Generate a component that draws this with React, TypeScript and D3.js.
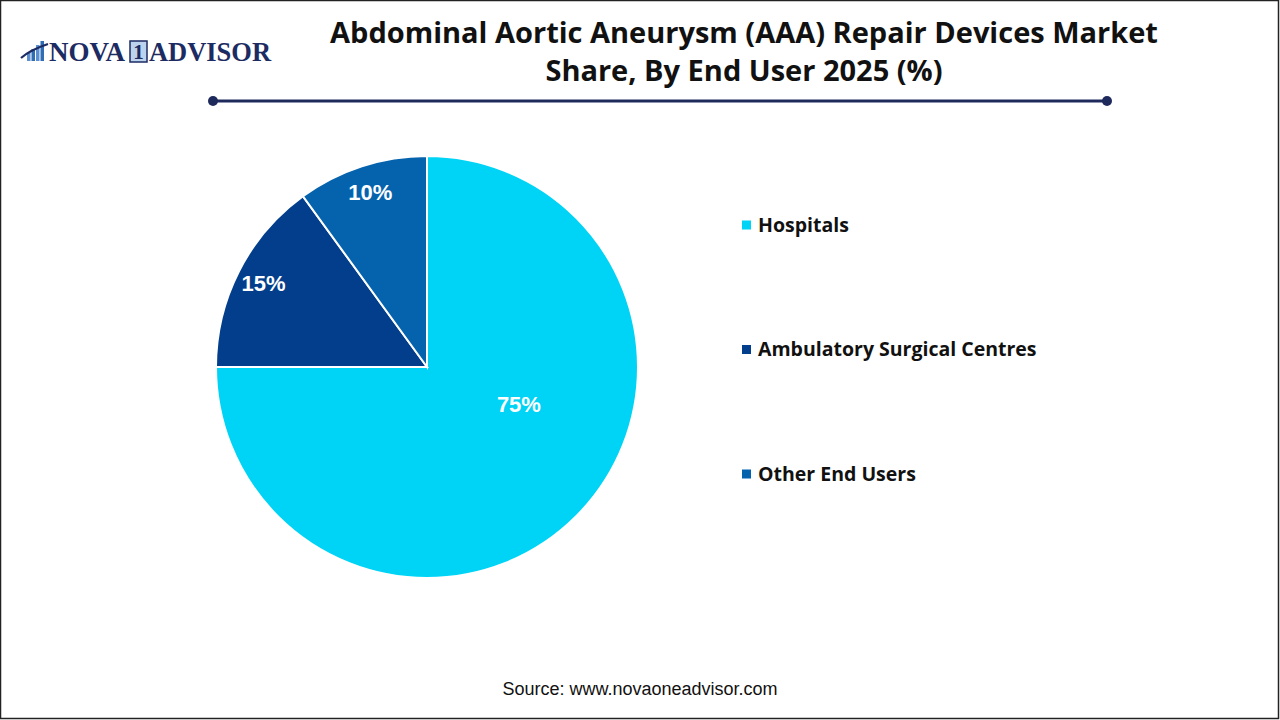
import React, { useEffect, useRef } from 'react';
import * as d3 from 'd3';

const categories = ['Hospitals', 'Ambulatory Surgical Centres', 'Other End Users'];
const shares = [75, 15, 10];
const colors = ['#00D4F6', '#023E8C', '#0563AE'];
const titleLines = ['Abdominal Aortic Aneurysm (AAA) Repair Devices Market', 'Share, By End User 2025 (%)'];
const sourceText = 'Source: www.novaoneadvisor.com';

export default function App() {
  const ref = useRef<SVGSVGElement | null>(null);

  useEffect(() => {
    document.body.style.margin = '0';
    const width = 1280;
    const height = 720;
    const svg = d3.select(ref.current).attr('width', width).attr('height', height);
    svg.selectAll('*').remove();

    svg.append('rect')
      .attr('x', 0.5).attr('y', 0.5)
      .attr('width', width - 2).attr('height', height - 2)
      .attr('fill', '#fff').attr('stroke', '#222').attr('stroke-width', 1.5);

    // logo
    const logo = svg.append('g');
    const bars = [8, 12, 16, 20];
    bars.forEach((h, i) => {
      logo.append('rect')
        .attr('x', 27 + i * 4.5).attr('y', 61 - h)
        .attr('width', 3.5).attr('height', h)
        .attr('fill', i % 2 ? '#2f6db5' : '#5b8fd0');
    });
    logo.append('path')
      .attr('d', 'M21,58 Q30,50 48,44')
      .attr('fill', 'none').attr('stroke', '#1d2b63').attr('stroke-width', 2.2);
    const logoFont = 'Liberation Serif, DejaVu Serif, serif';
    logo.append('text')
      .attr('x', 49).attr('y', 61)
      .attr('font-family', logoFont).attr('font-weight', 700).attr('font-size', 27)
      .attr('fill', '#1d2b63').text('NOVA');
    logo.append('rect')
      .attr('x', 130).attr('y', 41).attr('width', 17).attr('height', 21)
      .attr('fill', '#bcd3ee').attr('stroke', '#1d2b63').attr('stroke-width', 1.5);
    logo.append('text')
      .attr('x', 138.5).attr('y', 59).attr('text-anchor', 'middle')
      .attr('font-family', logoFont).attr('font-weight', 700).attr('font-size', 21)
      .attr('fill', '#1d2b63').text('1');
    logo.append('text')
      .attr('x', 149).attr('y', 61)
      .attr('font-family', logoFont).attr('font-weight', 700).attr('font-size', 27)
      .attr('fill', '#1d2b63').text('ADVISOR')
      .attr('textLength', 122).attr('lengthAdjust', 'spacingAndGlyphs');

    // title
    const title = svg.append('text')
      .attr('text-anchor', 'middle')
      .attr('font-family', 'Open Sans, Noto Sans, sans-serif')
      .attr('font-weight', 700).attr('font-size', 29).attr('fill', '#111');
    titleLines.forEach((line, i) => {
      title.append('tspan').attr('x', 744).attr('y', 43 + i * 38).text(line);
    });

    // divider
    svg.append('line')
      .attr('x1', 213).attr('x2', 1107).attr('y1', 101).attr('y2', 101)
      .attr('stroke', '#1f2a5c').attr('stroke-width', 3);
    [213, 1107].forEach(x => {
      svg.append('circle').attr('cx', x).attr('cy', 101).attr('r', 5).attr('fill', '#1f2a5c');
    });

    // pie
    const cx = 427, cy = 367, r = 211;
    const pie = d3.pie<number>().sort(null).value(d => d);
    const arcs = pie(shares);
    const arc = d3.arc<d3.PieArcDatum<number>>().innerRadius(0).outerRadius(r);
    const g = svg.append('g').attr('transform', `translate(${cx},${cy})`);
    g.selectAll('path')
      .data(arcs)
      .join('path')
      .attr('d', arc)
      .attr('fill', (_, i) => colors[i])
      .attr('stroke', '#fff').attr('stroke-width', 2);

    const labelPos = (d: d3.PieArcDatum<number>) => {
      const big = d.endAngle - d.startAngle > Math.PI;
      const a = (d.startAngle + d.endAngle) / 2 - (big ? 0.4 : 0);
      const rr = big ? r * 0.47 : r * 0.87;
      return [Math.sin(a) * rr, -Math.cos(a) * rr];
    };
    g.selectAll('text')
      .data(arcs)
      .join('text')
      .attr('transform', d => `translate(${labelPos(d)})`)
      .attr('text-anchor', 'middle').attr('dy', '0.35em')
      .attr('font-family', 'Liberation Sans, Arial, sans-serif')
      .attr('font-weight', 700).attr('font-size', 22).attr('fill', '#fff')
      .text(d => `${d.data}%`);

    // legend
    const ly = d3.scalePoint<string>().domain(categories).range([225, 474]);
    const lg = svg.append('g').selectAll('g').data(categories).join('g')
      .attr('transform', d => `translate(742,${ly(d)})`);
    lg.append('rect').attr('x', 0).attr('y', -4.5).attr('width', 9).attr('height', 9)
      .attr('fill', (_, i) => colors[i]);
    lg.append('text').attr('x', 16).attr('dy', '0.35em')
      .attr('font-family', 'Open Sans, Noto Sans, sans-serif')
      .attr('font-weight', 700).attr('font-size', 19.5).attr('fill', '#111')
      .text(d => d);

    svg.append('text')
      .attr('x', 640).attr('y', 695).attr('text-anchor', 'middle')
      .attr('font-family', 'Liberation Sans, Arial, sans-serif')
      .attr('font-size', 18).attr('fill', '#111')
      .text(sourceText);
  }, []);

  return (
    <div style={{ position: 'fixed', left: 0, top: 0 }}>
      <svg ref={ref} />
    </div>
  );
}
